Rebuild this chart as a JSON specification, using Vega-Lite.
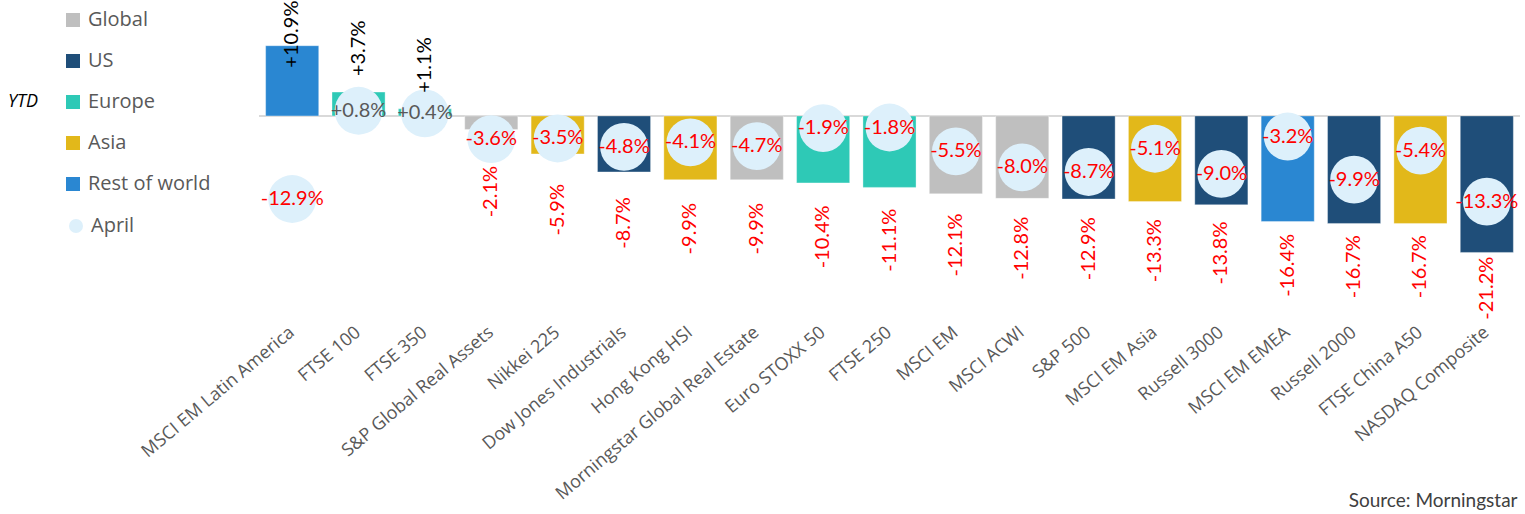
{
  "$schema": "https://vega.github.io/schema/vega-lite/v6.json",
  "width": 1261,
  "height": 322,
  "autosize": {"type": "none"},
  "padding": {"left": 259, "top": 0, "right": 5, "bottom": 192},
  "background": "white",
  "config": {
    "view": {"stroke": null},
    "locale": {"number": {"decimal": ".", "thousands": ",", "grouping": [3], "currency": ["$", ""], "minus": "-"}},
    "text": {"font": "Lato"}
  },
  "data": {
    "values": [
      {"index": "MSCI EM Latin America", "region": "Rest of world", "ytd": 0.109, "april": -0.129},
      {"index": "FTSE 100", "region": "Europe", "ytd": 0.037, "april": 0.008},
      {"index": "FTSE 350", "region": "Europe", "ytd": 0.011, "april": 0.004},
      {"index": "S&P Global Real Assets", "region": "Global", "ytd": -0.021, "april": -0.036},
      {"index": "Nikkei 225", "region": "Asia", "ytd": -0.059, "april": -0.035},
      {"index": "Dow Jones Industrials", "region": "US", "ytd": -0.087, "april": -0.048},
      {"index": "Hong Kong HSI", "region": "Asia", "ytd": -0.099, "april": -0.041},
      {"index": "Morningstar Global Real Estate", "region": "Global", "ytd": -0.099, "april": -0.047},
      {"index": "Euro STOXX 50", "region": "Europe", "ytd": -0.104, "april": -0.019},
      {"index": "FTSE 250", "region": "Europe", "ytd": -0.111, "april": -0.018},
      {"index": "MSCI EM", "region": "Global", "ytd": -0.121, "april": -0.055},
      {"index": "MSCI ACWI", "region": "Global", "ytd": -0.128, "april": -0.080},
      {"index": "S&P 500", "region": "US", "ytd": -0.129, "april": -0.087},
      {"index": "MSCI EM Asia", "region": "Asia", "ytd": -0.133, "april": -0.051},
      {"index": "Russell 3000", "region": "US", "ytd": -0.138, "april": -0.090},
      {"index": "MSCI EM EMEA", "region": "Rest of world", "ytd": -0.164, "april": -0.032},
      {"index": "Russell 2000", "region": "US", "ytd": -0.167, "april": -0.099},
      {"index": "FTSE China A50", "region": "Asia", "ytd": -0.167, "april": -0.054},
      {"index": "NASDAQ Composite", "region": "US", "ytd": -0.212, "april": -0.133}
    ]
  },
  "encoding": {
    "x": {
      "field": "index", "type": "nominal", "sort": null,
      "scale": {"paddingInner": 0.2, "paddingOuter": 0.1},
      "axis": {
        "title": "Source: Morningstar",
        "titleFont": "Lato", "titleFontSize": 19, "titleFontWeight": "normal", "titleColor": "#404040",
        "titleX": 1258, "titleY": 184, "titleAlign": "right", "titleBaseline": "alphabetic", "titleAnchor": "end",
        "labelAngle": -40, "labelAlign": "right", "labelBaseline": "middle",
        "labelFont": "Open Sans", "labelFontSize": 18, "labelColor": "#595959",
        "labelPadding": 8, "ticks": false, "domain": false, "labelOverlap": false, "labelLimit": 400
      }
    }
  },
  "layer": [
    {
      "mark": {"type": "rule", "color": "#D9D9D9", "strokeWidth": 2},
      "encoding": {
        "x": {"value": 0}, "x2": {"value": 1261},
        "y": {"datum": 0, "scale": {"domain": [-0.32, 0.18]}, "axis": null}
      }
    },
    {
      "mark": {"type": "bar", "stroke": "#FFFFFF", "strokeOpacity": 0.35, "strokeWidth": 1},
      "encoding": {
        "y": {"field": "ytd", "type": "quantitative", "scale": {"domain": [-0.32, 0.18]}, "axis": null},
        "y2": {"datum": 0},
        "color": {
          "field": "region", "type": "nominal",
          "scale": {"domain": ["Global", "US", "Europe", "Asia", "Rest of world"], "range": ["#BFBFBF", "#1F4E79", "#2EC9B6", "#E2B81A", "#2A87D2"]},
          "legend": {
            "title": "YTD", "orient": "none", "legendX": -251, "legendY": 10,
            "titleOrient": "left", "titleAnchor": "middle", "titleBaseline": "middle",
            "titleFont": "Open Sans", "titleFontStyle": "italic", "titleFontWeight": "normal", "titleFontSize": 18, "titleColor": "#000000", "titlePadding": 24,
            "labelFont": "Open Sans", "labelFontSize": 20, "labelColor": "#595959", "labelOffset": 5,
            "symbolType": "square", "symbolSize": 196, "symbolStrokeWidth": 0, "symbolOpacity": 1, "rowPadding": 21
          }
        }
      }
    },
    {
      "mark": {"type": "point", "filled": true, "opacity": 1, "color": "#DDF0FB", "size": 2290},
      "encoding": {
        "y": {"field": "april", "type": "quantitative", "scale": {"domain": [-0.32, 0.18]}, "axis": null},
        "shape": {
          "datum": "April",
          "scale": {"domain": ["April"], "range": ["circle"]},
          "legend": {
            "title": null, "orient": "none", "legendX": -193, "legendY": 216,
            "labelFont": "Open Sans", "labelFontSize": 20, "labelColor": "#595959", "labelOffset": 5,
            "symbolSize": 196, "symbolFillColor": "#DDF0FB", "symbolStrokeWidth": 0, "symbolOpacity": 1
          }
        }
      }
    },
    {
      "mark": {"type": "text", "fontSize": 20, "align": "center", "baseline": "middle"},
      "encoding": {
        "y": {"field": "april", "type": "quantitative", "scale": {"domain": [-0.32, 0.18]}, "axis": null},
        "text": {"field": "april", "type": "quantitative", "format": "+.1%"},
        "color": {"condition": {"test": "datum.april < 0", "value": "#FF0000"}, "value": "#595959"}
      }
    },
    {
      "transform": [{"filter": "datum.ytd > 0 && datum.ytd < 0.08"}],
      "mark": {"type": "text", "fontSize": 20, "angle": 270, "align": "left", "baseline": "middle", "dx": 16, "color": "#000000"},
      "encoding": {
        "y": {"field": "ytd", "type": "quantitative", "scale": {"domain": [-0.32, 0.18]}, "axis": null},
        "text": {"field": "ytd", "type": "quantitative", "format": "+.1%"}
      }
    },
    {
      "transform": [{"filter": "datum.ytd >= 0.08"}],
      "mark": {"type": "text", "fontSize": 20, "angle": 270, "align": "left", "baseline": "middle", "dx": -22, "color": "#000000"},
      "encoding": {
        "y": {"field": "ytd", "type": "quantitative", "scale": {"domain": [-0.32, 0.18]}, "axis": null},
        "text": {"field": "ytd", "type": "quantitative", "format": "+.1%"}
      }
    },
    {
      "transform": [{"filter": "datum.ytd < 0"}],
      "mark": {"type": "text", "fontSize": 20, "angle": 270, "align": "right", "baseline": "middle", "color": "#FF0000"},
      "encoding": {
        "y": {"field": "ytd", "type": "quantitative", "scale": {"domain": [-0.3495, 0.3284]}, "axis": null},
        "text": {"field": "ytd", "type": "quantitative", "format": "+.1%"}
      }
    }
  ],
  "resolve": {"scale": {"y": "independent"}}
}
